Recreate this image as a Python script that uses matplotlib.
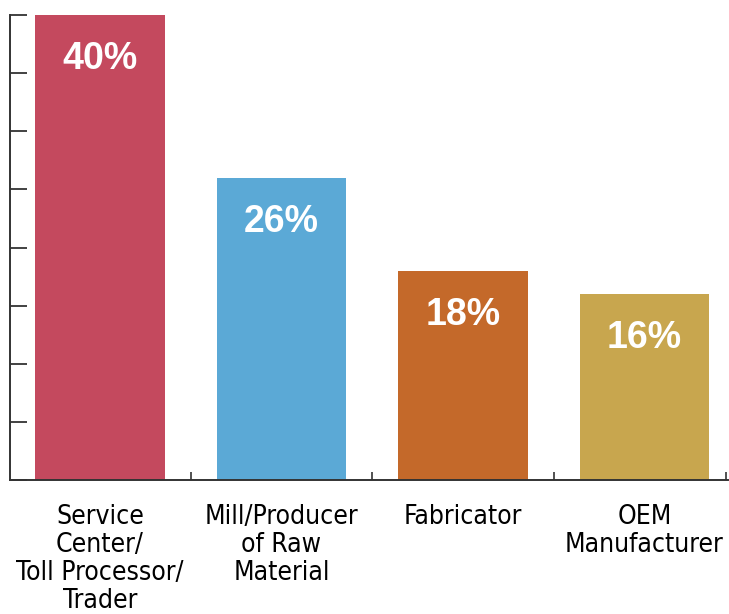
import matplotlib.pyplot as plt
from matplotlib.ticker import MultipleLocator, FixedLocator

categories = ["Service\nCenter/\nToll Processor/\nTrader",
              "Mill/Producer\nof Raw\nMaterial",
              "Fabricator",
              "OEM\nManufacturer"]
shares = [40, 26, 18, 16]
colors = ["#C4495E", "#5BA9D6", "#C4692A", "#C8A64E"]

fig = plt.figure(figsize=(7.29, 6.14), dpi=100)
ax = fig.add_axes([10 / 729, 134 / 614, 718 / 729, 465 / 614])

x = list(range(len(shares)))
bars = ax.bar(x, shares, width=0.714, color=colors)

# percentage labels inside the top of each bar
for xi, v in zip(x, shares):
    ax.annotate(f"{v}%", (xi, v), xytext=(0, -32), textcoords="offset points",
                ha="center", va="center", color="white", fontsize=27,
                fontweight="bold", family=["Liberation Sans", "DejaVu Sans"])

ax.set_xlim(-0.495, 3.46)
ax.set_ylim(0, 40)

for side in ["top", "right"]:
    ax.spines[side].set_visible(False)
for side in ["left", "bottom"]:
    ax.spines[side].set_color("#333333")
    ax.spines[side].set_linewidth(1.4)

ax.yaxis.set_major_locator(MultipleLocator(5))
ax.tick_params(axis="y", direction="in", length=12, width=1.3, color="#333333",
               labelleft=False)

ax.set_xticks(x)
ax.set_xticklabels(categories, family="DejaVu Sans", fontstretch="condensed",
                   fontsize=19, linespacing=1.1)
ax.tick_params(axis="x", which="major", length=0, pad=17)
# small separators between the categories
ax.xaxis.set_minor_locator(FixedLocator([0.5, 1.5, 2.5, 3.45]))
ax.tick_params(axis="x", which="minor", direction="in", length=6, width=1.2,
               color="#333333")

fig.savefig("out.png", dpi=100)
